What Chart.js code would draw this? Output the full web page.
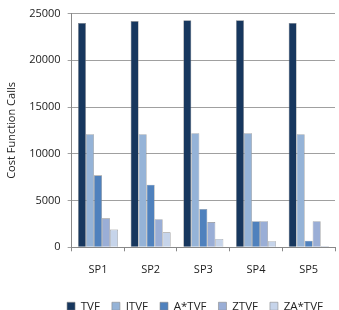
<!DOCTYPE html>
<html>
<head>
<meta charset="utf-8">
<script src="https://cdn.jsdelivr.net/npm/chart.js@4"></script>
<style>
  html, body { margin: 0; padding: 0; background: #fff; overflow: hidden; }
  #wrap { width: 339px; height: 310px; }
</style>
</head>
<body>
<div id="wrap"><canvas id="barChart" width="339" height="310"></canvas></div>
<script>
const categories = ['SP1', 'SP2', 'SP3', 'SP4', 'SP5'];
const seriesNames = ['TVF', 'ITVF', 'A*TVF', 'ZTVF', 'ZA*TVF'];
const tvf = [24000, 24200, 24300, 24300, 24000];
const itvf = [12100, 12100, 12200, 12200, 12100];
const aTvf = [7700, 6700, 4100, 2800, 700];
const zTvf = [3100, 3000, 2700, 2800, 2800];
const zaTvf = [1900, 1600, 900, 650, 150];
const yTicks = [0, 5000, 10000, 15000, 20000, 25000];

const colors = ['#17375E', '#95B3D7', '#4F81BD', '#9AAED6', '#C6D4EA'];
const allSeries = [tvf, itvf, aTvf, zTvf, zaTvf];

const ctx = document.getElementById('barChart').getContext('2d');
Chart.defaults.font.family = '"Open Sans", sans-serif';
Chart.defaults.color = '#222';

const myChart = new Chart(ctx, {
  type: 'bar',
  data: {
    labels: categories,
    datasets: allSeries.map((vals, i) => ({
      label: seriesNames[i],
      data: vals,
      backgroundColor: colors[i],
      borderColor: '#8a8a8a',
      borderWidth: 0.6,
      barPercentage: 1,
      categoryPercentage: 0.76
    }))
  },
  options: {
    responsive: false,
    animation: false,
    layout: { padding: { left: 5, right: 4, top: 12, bottom: -12 } },
    plugins: {
      tooltip: { enabled: false },
      legend: {
        position: 'bottom',
        align: 'end',
        labels: {
          boxWidth: 8,
          boxHeight: 8,
          padding: 12,
          font: { size: 11.5 },
          color: '#222'
        }
      }
    },
    scales: {
      x: {
        grid: {
          offset: true,
          drawOnChartArea: false,
          tickLength: 4,
          color: '#888'
        },
        border: { color: '#888' },
        ticks: { font: { size: 11 }, padding: 12 }
      },
      y: {
        min: 0,
        max: 25000,
        afterBuildTicks: axis => { axis.ticks = yTicks.map(v => ({ value: v })); },
        grid: { color: '#a0a0a0', tickLength: 4 },
        border: { color: '#888' },
        ticks: { font: { size: 11 }, padding: 7, callback: v => String(v) },
        title: {
          display: true,
          text: 'Cost Function Calls',
          font: { size: 11 },
          padding: { top: 0, bottom: 4 }
        }
      }
    }
  }
});
</script>
</body>
</html>
